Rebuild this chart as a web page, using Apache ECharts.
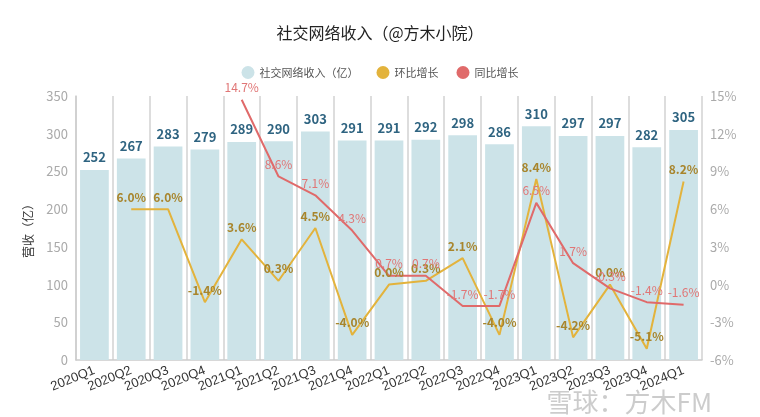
<!DOCTYPE html>
<html><head><meta charset="utf-8">
<script src="https://cdn.jsdelivr.net/npm/echarts@6/dist/echarts.min.js"></script>
<style>html,body{margin:0;padding:0;background:#fff}#c{width:760px;height:417px}</style>
</head><body><div id="c"></div>
<script>
const categories = ['2020Q1','2020Q2','2020Q3','2020Q4','2021Q1','2021Q2','2021Q3','2021Q4','2022Q1','2022Q2','2022Q3','2022Q4','2023Q1','2023Q2','2023Q3','2023Q4','2024Q1'];
const revenue = [252,267,283,279,289,290,303,291,291,292,298,286,310,297,297,282,305];
const qoq = [null,6.0,6.0,-1.4,3.6,0.3,4.5,-4.0,0.0,0.3,2.1,-4.0,8.4,-4.2,0.0,-5.1,8.2];
const yoy = [null,null,null,null,14.7,8.6,7.1,4.3,0.7,0.7,-1.7,-1.7,6.5,1.7,-0.3,-1.4,-1.6];
const leftTicks = {min:0,max:350,interval:50};
const rightTicks = {min:-6,max:15,interval:3};

const font = '"Noto Sans CJK SC", "Noto Sans", sans-serif';
const pct = p => (p.value == null ? '' : Number(p.value).toFixed(1) + '%');
const chart = echarts.init(document.getElementById('c'));
chart.setOption({
  animation:false,
  textStyle:{fontFamily:font},
  title:{text:'社交网络收入（@方木小院）',left:'center',top:20,textStyle:{fontSize:16,fontWeight:'normal',color:'#222',fontFamily:font}},
  legend:{top:61,left:'center',icon:'circle',itemWidth:13,itemHeight:13,itemGap:18,textStyle:{fontSize:11,color:'#555'},
    data:['社交网络收入（亿）','环比增长','同比增长']},
  grid:{left:76,right:58,top:96,bottom:57},
  xAxis:{type:'category',data:categories,boundaryGap:true,
    axisLine:{lineStyle:{color:'#ccc',width:1.5}},axisTick:{show:false},
    splitLine:{show:true,lineStyle:{color:'#ddd',width:2}},
    axisLabel:{rotate:22,color:'#333',fontSize:13,margin:10,interval:0,fontFamily:'"Liberation Sans", Arial, sans-serif'}},
  yAxis:[
    {type:'value',min:leftTicks.min,max:leftTicks.max,interval:leftTicks.interval,name:'营收（亿）',nameLocation:'middle',nameGap:42,nameRotate:90,
     nameTextStyle:{color:'#333',fontSize:12},
     axisLine:{show:true,lineStyle:{color:'#ccc',width:1.5}},axisTick:{show:false},splitLine:{show:false},
     axisLabel:{color:'#aaa',fontSize:13}},
    {type:'value',min:rightTicks.min,max:rightTicks.max,interval:rightTicks.interval,position:'right',
     axisLine:{show:false},axisTick:{show:false},splitLine:{show:false},
     axisLabel:{color:'#aaa',fontSize:13,formatter:'{value}%'}}
  ],
  series:[
    {name:'社交网络收入（亿）',type:'bar',data:revenue,barWidth:'78%',itemStyle:{color:'#cce3e8'},
     label:{show:true,position:'top',color:'#2f6481',fontSize:13,fontWeight:'bold',distance:6}},
    {name:'环比增长',type:'line',yAxisIndex:1,data:qoq,symbol:'circle',symbolSize:0,showSymbol:true,lineStyle:{color:'#e3b33c',width:2},itemStyle:{color:'#e3b33c'},
     label:{show:true,position:'top',color:'#a8852c',fontSize:12,fontWeight:'bold',distance:6,formatter:pct}},
    {name:'同比增长',type:'line',yAxisIndex:1,data:yoy,symbol:'circle',symbolSize:0,showSymbol:true,lineStyle:{color:'#e06a6a',width:2},itemStyle:{color:'#e06a6a'},
     label:{show:true,position:'top',color:'#e07676',fontSize:12,distance:6,formatter:pct}}
  ],
  graphic:[{type:'text',right:48,bottom:2,style:{text:'雪球：方木FM',fill:'rgba(170,170,170,0.6)',fontSize:26,fontFamily:font}}]
});
</script></body></html>
